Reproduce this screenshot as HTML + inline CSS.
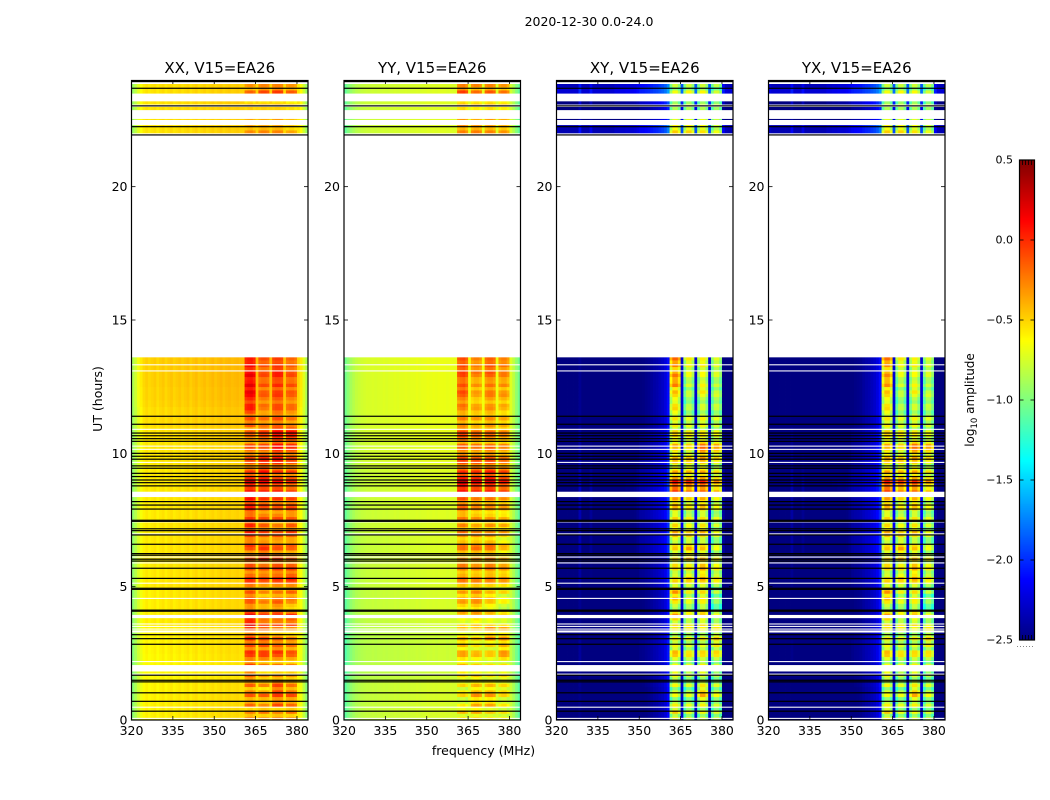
<!DOCTYPE html>
<html lang="en">
<head>
<meta charset="utf-8">
<title>2020-12-30 0.0-24.0</title>
<style>
html,body{margin:0;padding:0;background:#fff;width:1050px;height:800px;overflow:hidden}
svg{display:block}
text{font-family:"DejaVu Sans","Liberation Sans",sans-serif;fill:#000}
</style>
</head>
<body>
<svg id="figure" xmlns="http://www.w3.org/2000/svg" width="1050" height="800" viewBox="0 0 1050 800">
<rect x="0" y="0" width="1050" height="800" fill="#fff"/>
<text x="589" y="26" font-size="12.5" text-anchor="middle">2020-12-30 0.0-24.0</text>
<text x="483.5" y="755" font-size="12.5" text-anchor="middle">frequency (MHz)</text>
<text transform="translate(102,399) rotate(-90)" font-size="12.5" text-anchor="middle">UT (hours)</text>
<text transform="translate(974,400) rotate(-90)" font-size="12" text-anchor="middle">log<tspan font-size="8.5" dy="3">10</tspan><tspan dy="-3"> amplitude</tspan></text>
<g id="panels"></g>
<g id="colorbar"></g>
</svg>
<script>
// ---- categories and ticks ----
const panelTitles = ["XX, V15=EA26","YY, V15=EA26","XY, V15=EA26","YX, V15=EA26"];
const freqChannels = [320.5,321.5,322.5,323.5,324.5,325.5,326.5,327.5,328.5,329.5,330.5,331.5,332.5,333.5,334.5,335.5,336.5,337.5,338.5,339.5,340.5,341.5,342.5,343.5,344.5,345.5,346.5,347.5,348.5,349.5,350.5,351.5,352.5,353.5,354.5,355.5,356.5,357.5,358.5,359.5,360.5,361.5,362.5,363.5,364.5,365.5,366.5,367.5,368.5,369.5,370.5,371.5,372.5,373.5,374.5,375.5,376.5,377.5,378.5,379.5,380.5,381.5,382.5,383.5];
const bandEdgesMHz = [[361,365],[366,370],[371,375],[376,380]];
const rowStartHours = [0,.25,.5,.75,1,1.25,1.5,1.75,2,2.25,2.5,2.75,3,3.25,3.5,3.75,4,4.25,4.5,4.75,5,5.25,5.5,5.75,6,6.25,6.5,6.75,7,7.25,7.5,7.75,8,8.25,8.5,8.75,9,9.25,9.5,9.75,10,10.25,10.5,10.75,11,11.25,11.5,11.75,12,12.25,12.5,12.75,13,13.25,13.5,22,22.25,22.5,22.75,23,23.25,23.5,23.75];
const xTickValues = [320,335,350,365,380];
const yTickValues = [0,5,10,15,20];
const colorbarTicks = [-2.5,-2,-1.5,-1,-0.5,0,0.5];

// ---- spectra: log10 amplitude outside the RFI bands, relative offset inside them ----
const spectrumXX = [-.9,-.8,-.7,-.61,-.55,-.52,-.55,-.53,-.51,-.55,-.52,-.5,-.54,-.51,-.49,-.53,-.51,-.49,-.52,-.5,-.48,-.52,-.49,-.47,-.51,-.49,-.47,-.5,-.48,-.46,-.49,-.47,-.45,-.48,-.46,-.45,-.47,-.46,-.45,-.47,-.47,-.04,0,.02,-.04,-.47,-.03,0,0,-.03,-.47,-.03,0,0,-.03,-.49,-.03,0,0,-.05,-.53,-.6,-.75,-.9];
const spectrumYY = [-1.1,-1.02,-.95,-.9,-.86,-.84,-.82,-.81,-.8,-.8,-.79,-.8,-.79,-.79,-.78,-.79,-.78,-.78,-.77,-.78,-.77,-.77,-.76,-.77,-.76,-.76,-.75,-.76,-.75,-.75,-.74,-.75,-.74,-.75,-.74,-.74,-.74,-.75,-.74,-.75,-.75,-.04,0,.02,-.06,-.72,-.05,0,0,-.05,-.72,-.05,0,0,-.05,-.74,-.05,0,0,-.08,-.78,-.88,-1,-1.1];
const spectrumXY = [-2.7,-2.75,-2.75,-2.75,-2.75,-2.75,-2.75,-2.75,-2.5,-2.75,-2.75,-2.75,-2.58,-2.75,-2.75,-2.75,-2.75,-2.75,-2.75,-2.75,-2.75,-2.7,-2.7,-2.68,-2.68,-2.66,-2.66,-2.66,-2.64,-2.6,-2.55,-2.54,-2.52,-2.5,-2.47,-2.44,-2.42,-2.38,-2.34,-2.28,-2.15,-.35,-.1,-.1,-.3,-2.3,-.35,-.1,-.1,-.3,-2.3,-.35,-.1,-.1,-.3,-2.3,-.35,-.1,-.1,-.3,-2.55,-2.72,-2.75,-2.75];
const spectrumYX = [-2.7,-2.75,-2.75,-2.75,-2.75,-2.75,-2.75,-2.75,-2.55,-2.75,-2.75,-2.75,-2.6,-2.75,-2.75,-2.75,-2.75,-2.75,-2.75,-2.75,-2.75,-2.7,-2.7,-2.68,-2.68,-2.66,-2.66,-2.66,-2.64,-2.6,-2.55,-2.53,-2.52,-2.5,-2.46,-2.43,-2.41,-2.37,-2.33,-2.27,-2.15,-.35,-.1,-.1,-.3,-2.3,-.35,-.1,-.1,-.3,-2.3,-.35,-.1,-.1,-.3,-2.3,-.35,-.1,-.1,-.3,-2.55,-2.72,-2.75,-2.75];

// ---- per time row: [background offset, band 1, band 2, band 3, band 4] ----
const ampXX = [
[-.06,-.33,-.38,-.33,-.38],[-.06,-.38,-.33,-.38,-.33],[-.06,-.28,-.38,-.18,-.28],[-.06,-.28,-.28,-.18,-.23],[-.07,-.33,-.43,-.13,-.28],[-.07,-.28,-.38,-.18,-.33],[-.09,-.23,-.38,-.33,-.38],[-.09,-.23,-.48,-.43,-.43],[-.09,-.18,-.33,-.33,-.38],[-.08,-.18,-.18,-.23,-.28],[-.07,-.13,-.18,-.13,-.23],[-.07,-.13,-.13,-.18,-.23],[-.07,-.13,-.23,-.28,-.38],[-.07,-.18,-.28,-.38,-.43],[-.05,.12,-.13,-.13,-.13],[-.05,.07,-.13,-.13,-.08],[-.05,-.18,-.28,-.23,-.38],[-.05,-.23,-.33,-.23,-.38],[-.05,-.18,-.38,-.28,-.28],[-.05,-.23,-.38,-.33,-.28],[-.04,-.13,-.23,-.18,-.18],[-.04,-.13,-.18,-.13,-.08],[-.04,-.18,-.18,-.13,-.13],[-.04,-.18,-.28,-.18,-.23],[-.04,-.23,-.08,-.18,-.28],[-.04,-.23,-.13,-.23,-.28],[-.04,-.13,-.18,-.23,-.23],[-.04,-.13,-.23,-.18,-.23],[-.04,-.08,-.18,-.23,-.18],[-.04,-.03,-.18,-.28,-.18],[-.04,-.13,-.18,-.18,-.23],[-.04,-.08,-.23,-.23,-.18],[-.04,-.03,-.13,-.18,-.18],[-.04,-.03,-.13,-.13,-.18],[-.04,.02,-.03,-.03,-.13],[-.04,.12,.04,0,-.1],[-.04,-.06,-.03,-.13,-.18],[-.04,-.16,-.03,-.13,-.18],[-.03,-.18,-.08,-.06,-.18],[-.03,-.18,-.08,-.02,-.18],[-.03,-.23,-.23,-.03,-.13],[-.03,-.23,-.2,-.03,-.13],[-.02,-.23,-.13,.02,-.03],[-.02,-.23,-.13,.02,-.03],[0,-.18,-.26,-.18,-.28],[0,-.2,-.28,-.18,-.3],[0,0,-.28,-.13,-.23],[.02,-.03,-.26,-.16,-.26],[.03,.07,-.18,-.08,-.2],[.03,.12,-.2,-.1,-.18],[.04,.14,-.13,-.03,-.13],[.04,.12,-.13,0,-.13],[.04,.04,-.16,0,-.16],[.04,.07,-.13,-.06,-.18],[.04,.02,-.13,-.08,-.2],
[-.02,-.36,-.33,-.33,-.43],[-.02,-.38,-.38,-.38,-.48],[-.02,-.43,-.43,-.38,-.48],[-.02,-.48,-.48,-.48,-.53],[-.02,-.43,-.43,-.43,-.48],[-.02,-.46,-.46,-.46,-.5],[-.02,-.3,-.2,-.16,-.26],[-.02,-.38,-.33,-.33,-.38]];
const ampYY = [
[0,-.63,-.58,-.63,-.65],[0,-.55,-.48,-.58,-.65],[0,-.68,-.45,-.45,-.65],[0,-.65,-.43,-.45,-.63],[0,-.65,-.48,-.48,-.58],[0,-.63,-.53,-.53,-.63],[-.03,-.58,-.53,-.61,-.58],[-.03,-.53,-.58,-.63,-.61],[-.03,-.51,-.58,-.63,-.63],[-.03,-.48,-.53,-.58,-.45],[-.03,-.48,-.55,-.58,-.43],[-.03,-.45,-.58,-.53,-.43],[-.03,-.51,-.58,-.38,-.41],[-.03,-.58,-.58,-.43,-.48],[-.01,-.61,-.53,-.58,-.63],[-.01,-.58,-.48,-.58,-.63],[0,-.48,-.43,-.53,-.68],[0,-.43,-.38,-.53,-.68],[0,-.43,-.35,-.48,-.65],[0,-.45,-.38,-.53,-.61],[.01,-.35,-.35,-.38,-.43],[.01,-.33,-.38,-.35,-.41],[.01,-.33,-.35,-.31,-.38],[.01,-.31,-.38,-.33,-.43],[.01,-.45,-.43,-.38,-.53],[.01,-.33,-.31,-.33,-.53],[.01,-.31,-.33,-.28,-.48],[.01,-.38,-.38,-.41,-.58],[.02,-.33,-.38,-.41,-.45],[.02,-.31,-.41,-.35,-.41],[.02,-.33,-.38,-.41,-.48],[.02,-.28,-.38,-.41,-.45],[.02,-.25,-.33,-.33,-.41],[.02,-.23,-.35,-.33,-.41],[.02,.02,-.03,-.01,-.13],[.02,.19,.07,.09,-.05],[.02,-.01,-.05,-.01,-.15],[.02,-.13,-.13,-.08,-.18],[.04,-.15,-.18,-.18,-.28],[.04,-.18,-.23,-.21,-.31],[.04,-.28,-.33,-.28,-.38],[.04,-.28,-.33,-.33,-.38],[.05,-.13,-.23,-.23,-.33],[.05,-.18,-.28,-.28,-.35],[.05,-.33,-.43,-.35,-.43],[.05,-.33,-.41,-.38,-.45],[.06,-.31,-.38,-.33,-.45],[.06,-.28,-.43,-.38,-.43],[.06,-.21,-.41,-.28,-.35],[.06,-.15,-.38,-.28,-.38],[.06,-.15,-.33,-.25,-.31],[.06,-.13,-.31,-.21,-.28],[.06,-.11,-.25,-.15,-.28],[.06,-.13,-.28,-.15,-.25],[.06,-.13,-.28,-.18,-.28],
[.02,-.33,-.31,-.33,-.38],[.02,-.31,-.33,-.35,-.41],[.02,-.38,-.43,-.38,-.43],[.02,-.53,-.58,-.53,-.58],[.02,-.43,-.45,-.43,-.48],[.02,-.45,-.48,-.45,-.51],[.02,-.18,-.31,-.25,-.33],[.02,-.33,-.33,-.33,-.38]];
const ampXY = [
[.03,-.6,-.72,-.7,-.75],[.03,-.5,-.7,-.65,-.75],[.03,-.6,-.7,-.6,-.75],[.03,-.7,-.75,-.42,-.7],[.03,-.7,-.8,-.45,-.75],[.05,-.65,-.75,-.6,-.75],[.05,-.6,-.75,-.7,-.8],[.05,-.5,-.65,-.52,-.75],[.06,-.65,-.7,-.6,-.75],[.08,-.5,-.58,-.58,-.6],[.08,-.45,-.6,-.55,-.55],[.08,-.55,-.65,-.62,-.5],[.06,-.62,-.68,-.62,-.52],[.05,-.6,-.62,-.65,-.6],[.04,-.52,-.58,-.52,-.65],[.04,-.32,-.62,-.5,-.68],[.05,-.6,-.65,-.55,-.85],[.05,-.58,-.68,-.6,-.9],[.05,-.35,-.65,-.52,-.85],[.05,-.32,-.62,-.55,-.8],[.08,-.5,-.52,-.5,-.62],[.1,-.55,-.48,-.38,-.58],[.1,-.52,-.52,-.35,-.58],[.1,-.5,-.58,-.42,-.62],[.12,-.55,-.45,-.45,-.62],[.15,-.5,-.38,-.48,-.68],[.15,-.52,-.5,-.52,-.7],[.15,-.42,-.48,-.52,-.68],[.15,-.4,-.52,-.45,-.7],[.15,-.45,-.58,-.5,-.68],[.15,-.5,-.6,-.55,-.68],[.15,-.45,-.6,-.5,-.68],[.15,-.35,-.55,-.4,-.62],[.15,-.35,-.52,-.42,-.65],[.18,0,-.22,-.15,-.4],[.2,.08,-.02,.02,-.32],[.15,-.3,-.4,-.32,-.52],[.14,-.4,-.45,-.4,-.58],[.12,-.45,-.48,-.45,-.62],[.12,-.4,-.45,-.32,-.5],[.1,-.45,-.58,-.2,-.38],[.1,-.4,-.52,-.25,-.4],[.1,-.45,-.52,-.52,-.62],[.08,-.5,-.58,-.58,-.65],[.05,-.52,-.62,-.55,-.68],[.05,-.55,-.68,-.6,-.7],[.05,-.45,-.75,-.7,-.75],[.05,-.52,-.8,-.72,-.75],[.05,-.48,-.75,-.65,-.7],[.05,-.38,-.75,-.52,-.75],[.05,-.18,-.68,-.55,-.72],[.05,-.18,-.62,-.6,-.68],[.05,-.35,-.62,-.6,-.7],[.05,-.2,-.55,-.52,-.65],[.05,-.1,-.5,-.52,-.65],
[.4,-.45,-.48,-.52,-.65],[.42,-.5,-.52,-.55,-.68],[.15,-.65,-.65,-.65,-.75],[.1,-.75,-.75,-.75,-.8],[.25,-.7,-.7,-.7,-.75],[.25,-.72,-.72,-.72,-.78],[.5,-.7,-.65,-.65,-.8],[.42,-.75,-.75,-.75,-.8]];
const ampYX = [
[.03,-.6,-.73,-.7,-.76],[.03,-.5,-.7,-.66,-.76],[.03,-.6,-.7,-.6,-.76],[.03,-.7,-.73,-.43,-.7],[.03,-.7,-.78,-.46,-.76],[.05,-.66,-.73,-.6,-.76],[.05,-.58,-.73,-.7,-.8],[.05,-.5,-.66,-.53,-.76],[.06,-.66,-.7,-.6,-.76],[.08,-.5,-.58,-.58,-.6],[.08,-.46,-.6,-.56,-.58],[.08,-.56,-.66,-.63,-.53],[.06,-.63,-.68,-.63,-.53],[.05,-.6,-.63,-.66,-.6],[.04,-.53,-.58,-.53,-.66],[.04,-.33,-.63,-.5,-.68],[.05,-.6,-.66,-.56,-.86],[.05,-.58,-.68,-.6,-.88],[.05,-.36,-.66,-.53,-.86],[.05,-.33,-.63,-.56,-.8],[.08,-.5,-.53,-.5,-.63],[.1,-.56,-.48,-.38,-.58],[.1,-.53,-.53,-.36,-.58],[.1,-.5,-.58,-.43,-.63],[.12,-.56,-.46,-.46,-.63],[.15,-.5,-.38,-.48,-.68],[.15,-.53,-.5,-.53,-.7],[.15,-.43,-.48,-.53,-.68],[.15,-.4,-.53,-.46,-.7],[.15,-.46,-.58,-.5,-.68],[.15,-.5,-.6,-.56,-.68],[.15,-.46,-.6,-.5,-.68],[.15,-.36,-.56,-.4,-.63],[.15,-.36,-.53,-.43,-.66],[.18,-.03,-.26,-.18,-.43],[.2,.04,-.06,0,-.33],[.15,-.3,-.4,-.33,-.53],[.14,-.4,-.46,-.4,-.58],[.12,-.46,-.48,-.46,-.63],[.12,-.4,-.46,-.33,-.5],[.1,-.46,-.58,-.23,-.4],[.1,-.4,-.53,-.26,-.4],[.1,-.46,-.53,-.53,-.63],[.08,-.5,-.58,-.58,-.66],[.05,-.53,-.63,-.56,-.68],[.05,-.56,-.68,-.6,-.7],[.05,-.46,-.76,-.7,-.76],[.05,-.53,-.8,-.73,-.76],[.05,-.48,-.76,-.66,-.7],[.05,-.4,-.76,-.53,-.76],[.05,-.23,-.68,-.56,-.73],[.05,-.23,-.63,-.6,-.68],[.05,-.38,-.63,-.6,-.7],[.05,-.23,-.56,-.53,-.66],[.05,-.13,-.5,-.53,-.66],
[.4,-.46,-.48,-.53,-.66],[.42,-.5,-.53,-.56,-.68],[.15,-.66,-.66,-.66,-.76],[.1,-.76,-.76,-.76,-.8],[.25,-.7,-.7,-.7,-.76],[.25,-.73,-.73,-.73,-.78],[.5,-.7,-.66,-.66,-.8],[.42,-.76,-.76,-.76,-.8]];

// ---- fine horizontal texture inside the bands: two values per time row ----
const rowRipple = [.06,-.08,.1,-.1,.08,-.06,-.1,.12,.05,-.1,.1,-.05,-.08,.06,-.04,.1,.08,-.1,-.06,.1,.1,-.12,.04,-.08,.12,-.06,-.1,.1,.08,-.08,-.05,.1,.1,-.1,-.06,.08,.04,-.08,.1,-.1,-.08,.08,.1,-.05,-.1,.08,.06,-.1,.1,-.04,-.08,.1,.08,-.1,-.1,.06,.1,-.08,.04,-.1,.08,-.06,-.1,.1,.06,-.08,.1,-.1,.08,-.04,-.08,.1,.05,-.1,.1,-.06,-.1,.08,.08,-.08,-.04,.1,.1,-.1,-.06,.05,.08,-.1,.04,-.06,.08,-.05,-.06,.04,.06,-.05,-.04,.05,.05,-.06,.04,-.05,-.06,.05,.05,-.04,.04,-.03,.03,-.04,.06,-.06,.02,0,.04,-.08,.08,0,.04,-.08,.02,-.02,.1,-.1,.06,-.06];
const rippleGain = [1.3,1.3,1.5,1.5];

// ---- flagged time ranges, hours ----
const whiteStart = [.04,.46,1.7,1.82,2.17,3.28,3.39,3.49,3.58,3.82,4.54,5.11,5.87,6.09,6.96,7.41,8.36,9.64,10.13,10.25,10.88,13.07,13.3,13.6,22.31,22.54,22.99,23.2,23.85];
const whiteEnd   = [.08,.5,1.74,2.06,2.21,3.36,3.43,3.53,3.62,3.94,4.58,5.15,5.91,6.13,7,7.45,8.56,9.68,10.17,10.29,10.92,13.11,13.34,22,22.5,22.87,23.08,23.49,24];
const blackLineHours = [.33,.7,1.02,1.43,1.49,1.68,2.84,3.05,3.2,4.08,4.12,4.9,4.94,5.31,5.69,5.96,6.03,6.18,6.24,6.59,6.94,7.1,7.17,7.45,7.49,7.91,8.06,8.19,8.78,8.9,9,9.13,9.25,9.44,9.53,9.78,9.89,10,10.45,10.55,10.66,10.76,11.09,11.39,21.94,22.25,23.03,23.69,23.94];

// ---- axis functions ----
const SVGNS = "http://www.w3.org/2000/svg";
const panelLefts = [131.5,344,556.5,768.5];
const PANEL_W = 176.5, TOP = 80, BOTTOM = 720;
const FMIN = 320, FMAX = 384, TMIN = 0, TMAX = 24, CMIN = -2.5, CMAX = 0.5;
const spectra = [spectrumXX,spectrumYY,spectrumXY,spectrumYX];
const matrices = [ampXX,ampYY,ampXY,ampYX];
function xScale(p,f){ return panelLefts[p] + (f-FMIN)/(FMAX-FMIN)*PANEL_W; }
function yScale(t){ return BOTTOM - (t-TMIN)/(TMAX-TMIN)*(BOTTOM-TOP); }
function jet(v){
  const x = Math.max(0,Math.min(1,(v-CMIN)/(CMAX-CMIN)));
  const c = k => Math.round(255*Math.max(0,Math.min(1,1.5-Math.abs(4*x-k))));
  return "rgb("+c(3)+","+c(2)+","+c(1)+")";
}
function svgEl(tag,attrs,parent){
  const el = document.createElementNS(SVGNS,tag);
  for(const k in attrs) el.setAttribute(k,attrs[k]);
  if(parent) parent.appendChild(el);
  return el;
}
function bandOf(f){
  for(let k=0;k<bandEdgesMHz.length;k++) if(f>bandEdgesMHz[k][0]&&f<bandEdgesMHz[k][1]) return k;
  return -1;
}
function cellValue(p,r,s,c){
  const row = matrices[p][r], f = freqChannels[c], k = bandOf(f);
  if(k>=0) return row[k+1] + spectra[p][c] + rowRipple[r*2+s]*rippleGain[p];
  return spectra[p][c] + row[0];
}
function rowEnd(r){
  return (r+1<rowStartHours.length && rowStartHours[r+1]-rowStartHours[r]<1) ? rowStartHours[r+1] : rowStartHours[r]+.25;
}

const panelsRoot = document.getElementById("panels");
panelTitles.forEach(function(title,p){
  const g = svgEl("g",{},panelsRoot);
  
  
  const frag = document.createDocumentFragment();
  for(let r=0;r<rowStartHours.length;r++){
    const t0 = rowStartHours[r], t1 = rowEnd(r), tm = (t0+t1)/2;
    for(let s=0;s<2;s++){
      const ya = s===0 ? yScale(tm) : yScale(t1);
      const yb = s===0 ? yScale(t0) : yScale(tm);
      for(let c=0;c<freqChannels.length;c++){
        const cell = document.createElementNS(SVGNS,"rect");
        const xa = xScale(p,freqChannels[c]-.5), xb = xScale(p,freqChannels[c]+.5);
        cell.setAttribute("x",xa.toFixed(2));
        cell.setAttribute("y",ya.toFixed(2));
        cell.setAttribute("width",(xb-xa+.4).toFixed(2));
        cell.setAttribute("height",(yb-ya+.4).toFixed(2));
        cell.setAttribute("fill",jet(cellValue(p,r,s,c)));
        
        
        frag.appendChild(cell);
      }
    }
  }
  g.appendChild(frag);
  // white flagged ranges
  whiteStart.forEach(function(ts,i){
    const w = svgEl("rect",{x:panelLefts[p],y:yScale(whiteEnd[i]),width:PANEL_W,height:yScale(ts)-yScale(whiteEnd[i]),fill:"#fff"},g);
    
    
  });
  // black flagged lines
  blackLineHours.forEach(function(t){
    const b = svgEl("rect",{x:panelLefts[p],y:yScale(t)-.6,width:PANEL_W,height:1.2,fill:"#000"},g);
    
    
  });
  // title
  const tt = svgEl("text",{x:panelLefts[p]+PANEL_W/2,y:73,"font-size":"15","text-anchor":"middle"},g);
  tt.textContent = title;
  
  
  // x ticks
  xTickValues.forEach(function(f){
    const x = xScale(p,f);
    const t1 = svgEl("line",{x1:x,x2:x,y1:BOTTOM,y2:BOTTOM-4,stroke:"#000","stroke-width":.8},g);
    
    
    const t2 = svgEl("line",{x1:x,x2:x,y1:TOP,y2:TOP+4,stroke:"#000","stroke-width":.8},g);
    
    
    const lab = svgEl("text",{x:x,y:735,"font-size":"12.5","text-anchor":"middle"},g);
    lab.textContent = String(f);
    
    
  });
  // y ticks
  yTickValues.forEach(function(tv){
    const y = yScale(tv);
    const t1 = svgEl("line",{x1:panelLefts[p],x2:panelLefts[p]+4,y1:y,y2:y,stroke:"#000","stroke-width":.8},g);
    
    
    const t2 = svgEl("line",{x1:panelLefts[p]+PANEL_W,x2:panelLefts[p]+PANEL_W-4,y1:y,y2:y,stroke:"#000","stroke-width":.8},g);
    
    
    const lab = svgEl("text",{x:panelLefts[p]-4,y:y+4.5,"font-size":"12.5","text-anchor":"end"},g);
    lab.textContent = String(tv);
    
    
  });
  // frame
  const fr = svgEl("rect",{x:panelLefts[p],y:TOP+.5,width:PANEL_W,height:BOTTOM-TOP-.5,fill:"none",stroke:"#000","stroke-width":1.2},g);
  
  
});

// ---- colorbar ----
const cb = document.getElementById("colorbar");
const CB_X = 1019.5, CB_W = 15, CB_TOP = 160, CB_BOTTOM = 640;
function cbY(v){ return CB_BOTTOM - (v-CMIN)/(CMAX-CMIN)*(CB_BOTTOM-CB_TOP); }
for(let i=0;i<240;i++){
  const vLow = CMIN + (CMAX-CMIN)*i/240, vHigh = CMIN + (CMAX-CMIN)*(i+1)/240;
  const seg = svgEl("rect",{x:CB_X,y:cbY(vHigh),width:CB_W,height:cbY(vLow)-cbY(vHigh)+.4,fill:jet((vLow+vHigh)/2)},cb);
  
  
}
colorbarTicks.forEach(function(v){
  const y = cbY(v);
  const a = svgEl("line",{x1:CB_X,x2:CB_X+4,y1:y,y2:y,stroke:"#000","stroke-width":.8},cb);
  
  
  const b = svgEl("line",{x1:CB_X+CB_W,x2:CB_X+CB_W-4,y1:y,y2:y,stroke:"#000","stroke-width":.8},cb);
  
  
  const lab = svgEl("text",{x:1013,y:y+3.5,"font-size":"11","text-anchor":"end"},cb);
  lab.textContent = v.toFixed(1).replace("-","\u2212");
  
  
});
[1022.5,1025.5,1028.5,1031.5].forEach(function(x){
  const m1 = svgEl("line",{x1:x,x2:x,y1:CB_TOP,y2:CB_TOP+5,stroke:"#000","stroke-width":.8},cb);
  
  
  const m2 = svgEl("line",{x1:x,x2:x,y1:CB_BOTTOM,y2:CB_BOTTOM-5,stroke:"#000","stroke-width":.8},cb);
  
  
});
const cbFrame = svgEl("rect",{x:CB_X,y:CB_TOP,width:CB_W,height:CB_BOTTOM-CB_TOP,fill:"none",stroke:"#000","stroke-width":1.2},cb);


const dots = svgEl("line",{x1:1017,x2:1035,y1:646.5,y2:646.5,stroke:"#888","stroke-width":1,"stroke-dasharray":"1 2"},cb);


</script>
</body>
</html>
